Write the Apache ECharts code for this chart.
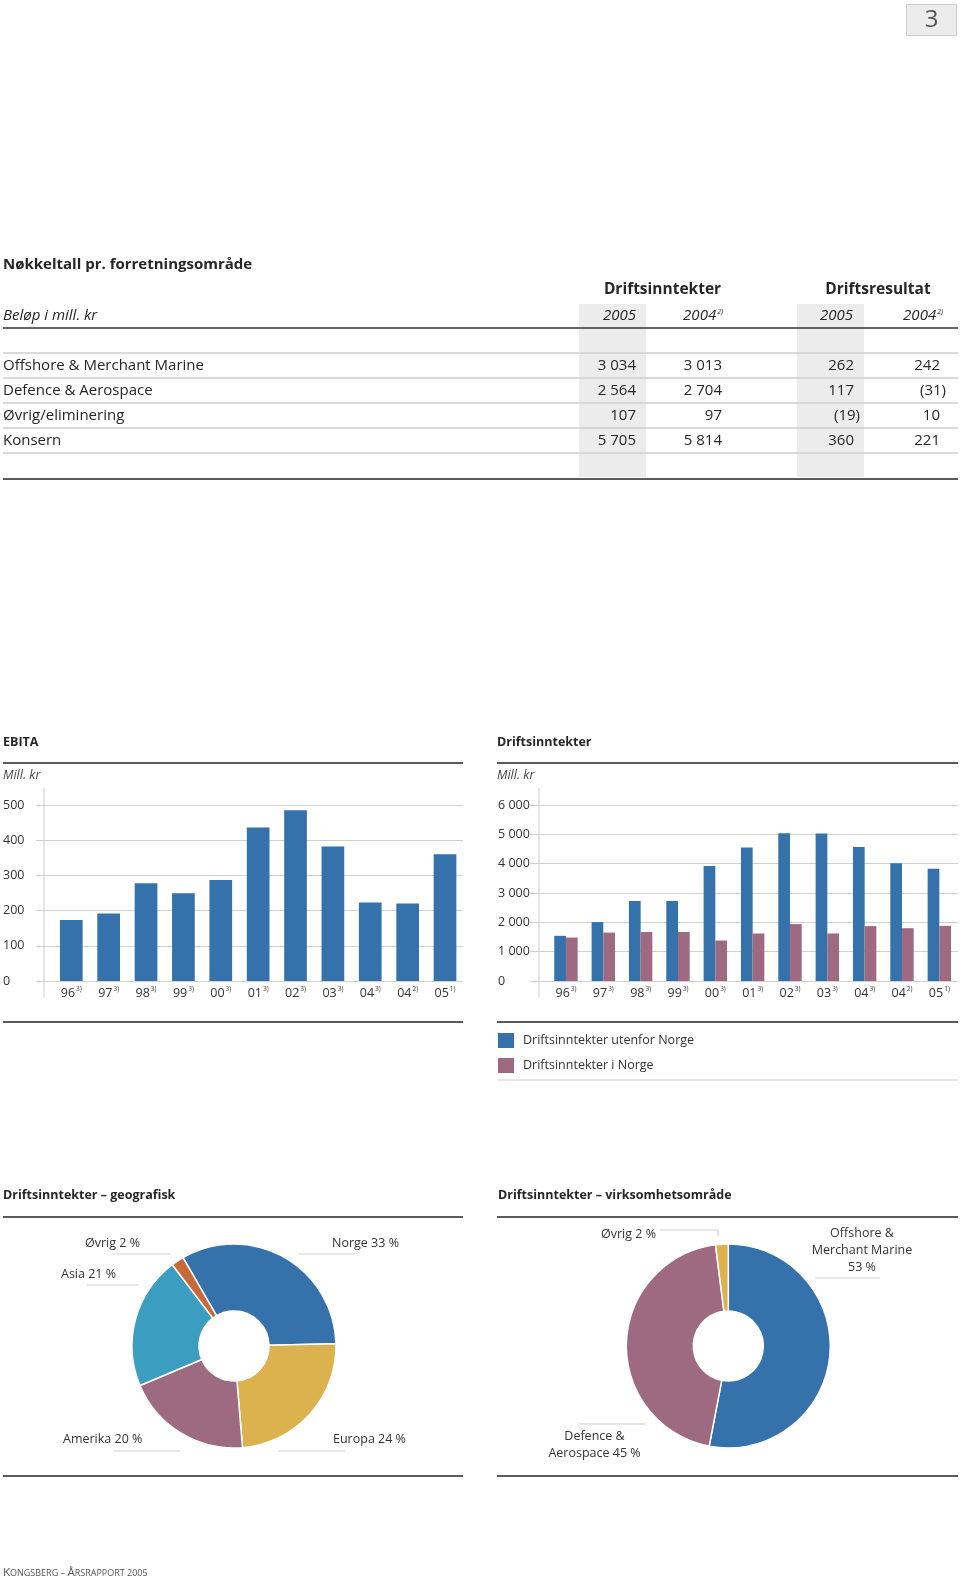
<!DOCTYPE html>
<html><head><meta charset="utf-8">
<script src="https://cdn.jsdelivr.net/npm/echarts@6/dist/echarts.min.js"></script>
<style>html,body{margin:0;padding:0;background:#fff}#c{width:960px;height:1580px}</style>
</head><body><div id="c"></div>
<script>
// ---------- data ----------
const tableRows = ['Offshore & Merchant Marine', 'Defence & Aerospace', 'Øvrig/eliminering', 'Konsern'];
const inntekter2005 = [3034, 2564, 107, 5705];
const inntekter2004 = [3013, 2704, 97, 5814];
const resultat2005 = [262, 117, -19, 360];
const resultat2004 = [242, -31, 10, 221];

const years = ['96', '97', '98', '99', '00', '01', '02', '03', '04', '04', '05'];
const yearNotes = ['3)', '3)', '3)', '3)', '3)', '3)', '3)', '3)', '3)', '2)', '1)'];
const ebita = [173, 192, 278, 249, 287, 436, 485, 382, 223, 220, 360];
const utenforNorge = [1540, 2010, 2730, 2730, 3920, 4550, 5040, 5030, 4570, 4010, 3830];
const iNorge = [1480, 1650, 1670, 1670, 1380, 1620, 1940, 1620, 1870, 1800, 1880];
const ebitaTicks = [0, 100, 200, 300, 400, 500];
const driftTicks = [0, 1000, 2000, 3000, 4000, 5000, 6000];

const geoNames = ['Norge', 'Europa', 'Amerika', 'Asia', 'Øvrig'];
const geoShares = [33, 24, 20, 21, 2];
const segNames = ['Offshore &\nMerchant Marine', 'Defence &\nAerospace', 'Øvrig'];
const segShares = [53, 45, 2];

// ---------- styles ----------
const FONT = "'Open Sans', sans-serif";
const TXT = '#262626';
const BLUE = '#3572ac', MAUVE = '#9d6a82', GOLD = '#dcb24f', TEAL = '#3b9dbf', ORANGE = '#c66a3a';
const DARK = '#5a5a5a', LIGHT = '#cfcfcf';
const geoColors = [BLUE, GOLD, MAUVE, TEAL, ORANGE];
const segColors = [BLUE, MAUVE, GOLD];

const fmt = n => String(Math.abs(n)).replace(/\B(?=(\d{3})+(?!\d))/g, ' ');

const g = [];
function text(x, y, s, o) {
  o = o || {};
  g.push({type: 'text', x: x, y: y, silent: true, style: Object.assign({
    text: s, fill: TXT, fontFamily: FONT, fontSize: 15, align: 'left', verticalAlign: 'middle'
  }, o)});
}
function line(x1, y1, x2, y2, c, w) {
  g.push({type: 'line', silent: true, shape: {x1: x1, y1: y1, x2: x2, y2: y2}, style: {stroke: c, lineWidth: w}});
}
function rect(x, y, w, h, c, s) {
  g.push({type: 'rect', silent: true, shape: {x: x, y: y, width: w, height: h}, style: {fill: c, stroke: s || null, lineWidth: 1}});
}

// page number
rect(906.5, 4.5, 50, 31, '#ececec', '#cccccc');
text(931.5, 20, '3', {fontSize: 24, align: 'center', fill: '#555'});

// ----- table -----
rect(579, 304, 67, 173, '#ececec');
rect(797, 304, 67, 173, '#ececec');
text(3, 265, 'Nøkkeltall pr. forretningsområde', {fontWeight: 'bold', fontSize: 15});
text(662.5, 290, 'Driftsinntekter', {fontWeight: 'bold', fontSize: 15.5, align: 'center'});
text(878, 290, 'Driftsresultat', {fontWeight: 'bold', fontSize: 15.5, align: 'center'});
text(3, 316, 'Beløp i mill. kr', {fontStyle: 'italic', fontSize: 15});
const hdrRich = {y: {fontFamily: FONT, fontStyle: 'italic', fontSize: 15, fill: TXT}, s: {fontFamily: FONT, fontStyle: 'italic', fontSize: 7, fill: TXT, verticalAlign: 'top', padding: [0, 0, 8, 1]}};
text(636, 316, '{y|2005}', {align: 'right', rich: hdrRich});
text(723, 316, '{y|2004}{s|2)}', {align: 'right', rich: hdrRich});
text(853, 316, '{y|2005}', {align: 'right', rich: hdrRich});
text(943, 316, '{y|2004}{s|2)}', {align: 'right', rich: hdrRich});
line(3, 328, 958, 328, '#333', 1.6);
for (let k = 0; k < 5; k++) line(3, 353 + 25 * k, 958, 353 + 25 * k, LIGHT, 1.6);
line(3, 479, 958, 479, DARK, 2);
const colRight = [636, 722, 854, 940];
const cols = [inntekter2005, inntekter2004, resultat2005, resultat2004];
tableRows.forEach((name, i) => {
  const y = 366 + 25 * i;
  text(3, y, name, {fontSize: 15});
  cols.forEach((col, c) => {
    const v = col[i];
    const s = v < 0 ? '(' + fmt(v) + ')' : fmt(v);
    text(colRight[c] + (v < 0 ? 6 : 0), y, s, {fontSize: 15, align: 'right'});
  });
});

// ----- bar chart frames -----
function frame(x0, x1, title) {
  text(x0, 742, title, {fontWeight: 'bold', fontSize: 12.5});
  line(x0, 763, x1, 763, DARK, 2);
  text(x0, 775, 'Mill. kr', {fontStyle: 'italic', fontSize: 12.5, fill: '#444'});
  line(x0, 1022, x1, 1022, DARK, 2);
}
frame(3, 463, 'EBITA');
frame(497, 958, 'Driftsinntekter');
line(44, 788, 44, 997, LIGHT, 1);
line(539, 788, 539, 997, LIGHT, 1);
line(497, 1080, 958, 1080, LIGHT, 1.2);

// ----- pie frames -----
text(3, 1195, 'Driftsinntekter – geografisk', {fontWeight: 'bold', fontSize: 12.5});
text(498, 1195, 'Driftsinntekter – virksomhetsområde', {fontWeight: 'bold', fontSize: 12.5});
line(3, 1217, 463, 1217, DARK, 2);
line(497, 1217, 958, 1217, DARK, 2);
line(3, 1476, 463, 1476, DARK, 2);
line(497, 1476, 958, 1476, DARK, 2);

// footer (small caps)
text(3, 1573, '{b|K}{s|ONGSBERG – }{b|Å}{s|RSRAPPORT 2005}', {rich: {
  b: {fontFamily: FONT, fontSize: 11.5, fill: '#555'},
  s: {fontFamily: FONT, fontSize: 9, fill: '#555'}
}});

// ---------- axes ----------
const cats = years.map((y, i) => y + '|' + yearNotes[i]);
const xLabel = {
  margin: 5, interval: 0, color: '#333',
  formatter: v => { const p = v.split('|'); return '{a|' + p[0] + '}{s|' + p[1] + '}'; },
  rich: {
    a: {fontFamily: FONT, fontSize: 12.5, color: '#333'},
    s: {fontFamily: FONT, fontSize: 6.5, color: '#333', verticalAlign: 'top', padding: [0, 0, 7, 1]}
  }
};
function yAxisVisible(grid, ticks, labelMargin) {
  return {
    gridIndex: grid, type: 'value', min: ticks[0], max: ticks[ticks.length - 1], interval: ticks[1] - ticks[0],
    axisLine: {show: false}, axisTick: {show: false},
    axisLabel: {align: 'left', margin: labelMargin, color: '#333', fontFamily: FONT, fontSize: 12.5, formatter: v => fmt(v)},
    splitLine: {show: true, lineStyle: {color: LIGHT, width: 1.2}}
  };
}
function yAxisHidden(grid, ticks) {
  return {gridIndex: grid, type: 'value', min: ticks[0], max: ticks[ticks.length - 1], interval: ticks[1] - ticks[0], show: false, splitLine: {show: false}};
}

const pieLabelStyle = {show: true, color: '#333', fontFamily: FONT, fontSize: 12.5, lineHeight: 17, overflow: 'none'};
const geoPos = [
  {x: 332, y: 1243, l: [299, 355, 1254]},
  {x: 333, y: 1439, l: [278, 345, 1451]},
  {x: 63, y: 1439, l: [114, 180, 1451]},
  {x: 61, y: 1274, l: [87, 139, 1285]},
  {x: 85, y: 1243, l: [114, 171, 1254]}
];
const segPos = [
  {x: 862, y: 1250, align: 'center', pts: [[815, 1278], [880, 1278], [880, 1278]]},
  {x: 594.5, y: 1445, align: 'center', pts: [[579, 1424], [645, 1424], [645, 1424]]},
  {x: 601, y: 1234, align: 'left', pts: [[660, 1230], [718, 1230], [718, 1236]]}
];
const segSep = ['\n', ' ', ' '];

const chart = echarts.init(document.getElementById('c'), null, {renderer: 'canvas'});
chart.setOption({
  animation: false,
  backgroundColor: '#fff',
  textStyle: {fontFamily: FONT},
  graphic: g,
  grid: [
    {left: 52.6, width: 411.1, top: 805, height: 176},
    {left: 36, width: 427, top: 805, height: 176},
    {left: 547.3, width: 410.7, top: 805, height: 176},
    {left: 530, width: 428, top: 805, height: 176}
  ],
  xAxis: [
    {gridIndex: 0, type: 'category', data: cats, axisLine: {show: false}, axisTick: {show: false}, axisLabel: xLabel},
    {gridIndex: 1, type: 'value', show: false, splitLine: {show: false}},
    {gridIndex: 2, type: 'category', data: cats, axisLine: {show: false}, axisTick: {show: false}, axisLabel: xLabel},
    {gridIndex: 3, type: 'value', show: false, splitLine: {show: false}}
  ],
  yAxis: [
    yAxisHidden(0, ebitaTicks),
    yAxisVisible(1, ebitaTicks, 33),
    yAxisHidden(2, driftTicks),
    yAxisVisible(3, driftTicks, 32)
  ],
  legend: {
    data: ['Driftsinntekter utenfor Norge', 'Driftsinntekter i Norge'],
    orient: 'vertical', left: 498, top: 1033, padding: 0, itemWidth: 16, itemHeight: 15, itemGap: 10,
    icon: 'rect', selectedMode: false,
    textStyle: {fontFamily: FONT, fontSize: 12.5, color: '#333', padding: [0, 0, 0, 4]}
  },
  series: [
    {type: 'bar', name: 'EBITA', xAxisIndex: 0, yAxisIndex: 0, data: ebita, barWidth: 22.7, itemStyle: {color: BLUE}},
    {type: 'bar', name: 'Driftsinntekter utenfor Norge', xAxisIndex: 2, yAxisIndex: 2, data: utenforNorge, barWidth: 11.7, barGap: '0%', itemStyle: {color: BLUE}},
    {type: 'bar', name: 'Driftsinntekter i Norge', xAxisIndex: 2, yAxisIndex: 2, data: iNorge, barWidth: 11.7, barGap: '0%', itemStyle: {color: MAUVE}},
    {
      type: 'pie', name: 'geografisk', center: [234, 1346], radius: [35, 102], startAngle: 120, clockwise: true,
      data: geoNames.map((n, i) => ({name: n, value: geoShares[i], itemStyle: {color: geoColors[i]}})),
      itemStyle: {borderColor: '#fff', borderWidth: 1.5},
      label: Object.assign({}, pieLabelStyle, {formatter: p => p.name + ' ' + p.value + ' %'}),
      labelLine: {show: true, lineStyle: {color: LIGHT, width: 1.2}},
      labelLayout: p => {
        const q = geoPos[p.dataIndex];
        return {x: q.x, y: q.y, align: 'left', verticalAlign: 'middle',
          labelLinePoints: [[q.l[0], q.l[2]], [q.l[1], q.l[2]], [q.l[1], q.l[2]]]};
      },
      emphasis: {disabled: true}
    },
    {
      type: 'pie', name: 'virksomhetsområde', center: [728.3, 1346], radius: [35, 102], startAngle: 90, clockwise: true,
      data: segNames.map((n, i) => ({name: n, value: segShares[i], itemStyle: {color: segColors[i]}})),
      itemStyle: {borderColor: '#fff', borderWidth: 1.5},
      label: Object.assign({}, pieLabelStyle, {align: 'center', formatter: p => p.name + segSep[p.dataIndex] + p.value + ' %'}),
      labelLine: {show: true, lineStyle: {color: LIGHT, width: 1.2}},
      labelLayout: p => {
        const q = segPos[p.dataIndex];
        return {x: q.x, y: q.y, align: q.align, verticalAlign: 'middle', width: 220, labelLinePoints: q.pts};
      },
      emphasis: {disabled: true}
    }
  ]
});
</script>
</body></html>
